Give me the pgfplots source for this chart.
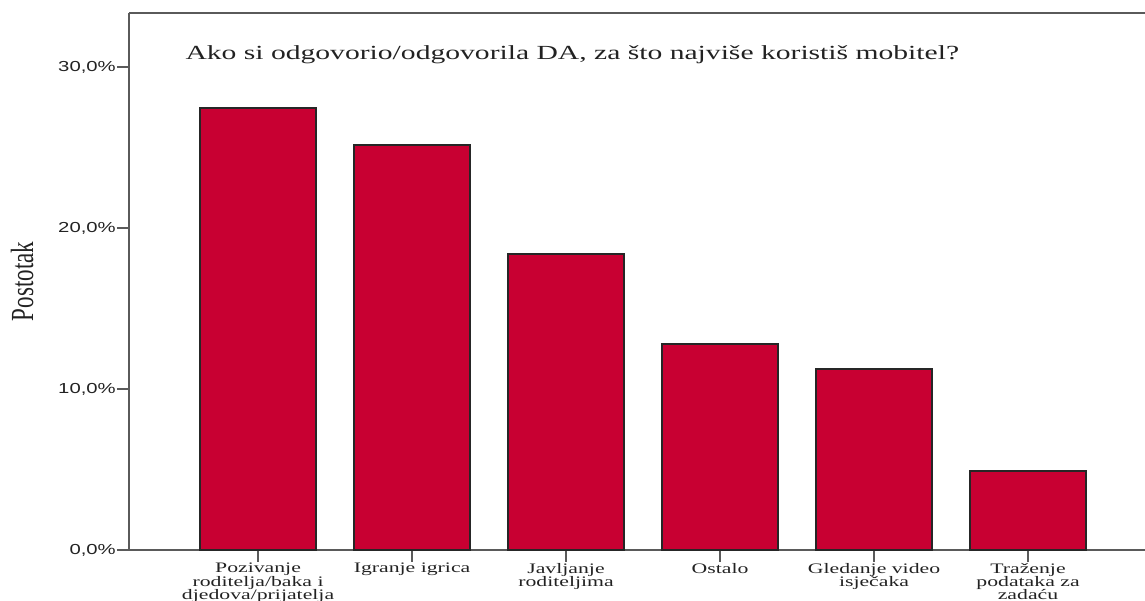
\documentclass[border=0pt]{standalone}
\usepackage{fontspec}
\usepackage{pgfplots}
\pgfplotsset{compat=1.18}
\setmainfont{Liberation Serif}
\newfontfamily\titlefont[FakeStretch=1.48]{Liberation Serif}
\newfontfamily\catfont[FakeStretch=1.5]{Liberation Serif}
\newfontfamily\tickfont[FakeStretch=1.4]{Liberation Sans}
\definecolor{barred}{HTML}{C80032}
\definecolor{spine}{HTML}{5A5A5A}
\definecolor{txt}{HTML}{222222}
\begin{document}
\begin{tikzpicture}
\useasboundingbox (-129pt,-51pt) rectangle (1016pt,550pt);
\begin{axis}[
  at={(0,0)}, anchor=south west,
  scale only axis, width=1016pt, height=537pt,
  xmin=-0.838, xmax=5.76, ymin=0, ymax=33.35,
  axis lines*=left,
  axis line style={spine, line width=1.6pt},
  tick align=outside,
  major tick length=12pt,
  tick style={spine, line width=1.6pt},
  xtick={0,1,2,3,4,5},
  xticklabels={{Pozivanje\\roditelja/baka i\\djedova/prijatelja},{Igranje igrica},{Javljanje\\roditeljima},{Ostalo},{Gledanje video\\isječaka},{Traženje\\podataka za\\zadaću}},
  xticklabel style={align=center, text=txt, font=\catfont\fontsize{14.5}{13.3}\selectfont, inner sep=1pt},
  ytick={0,10,20,30},
  yticklabels={{0,0\%},{10,0\%},{20,0\%},{30,0\%}},
  yticklabel style={text=txt, font=\tickfont\fontsize{14.5}{16}\selectfont, inner sep=1pt},
  clip=false,
]
\addplot[ybar, bar width=116pt, fill=barred, draw=black!85, line width=1.3pt]
  coordinates {(0,27.45) (1,25.16) (2,18.39) (3,12.8) (4,11.24) (5,4.9)};
\draw[spine, line width=1.6pt] (rel axis cs:0,1) -- (rel axis cs:1,1);
\end{axis}
\node[anchor=base west, text=txt, font=\titlefont\fontsize{20}{22}\selectfont] at (53pt,490pt) {Ako si odgovorio/odgovorila DA, za što najviše koristiš mobitel?};
\node[rotate=90, yscale=1.4, text=txt, font=\fontsize{23}{25}\selectfont] at (-107pt,268.5pt) {Postotak};
\end{tikzpicture}
\end{document}
